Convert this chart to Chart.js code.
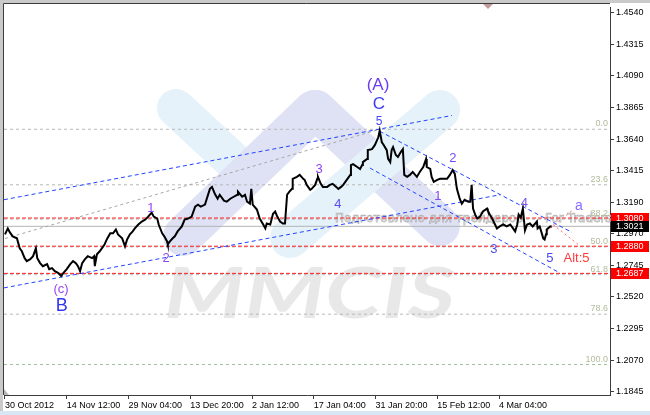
<!DOCTYPE html>
<html>
<head>
<meta charset="utf-8">
<script src="https://cdn.jsdelivr.net/npm/chart.js@4/dist/chart.umd.min.js"></script>
<style>
  html, body { margin: 0; padding: 0; background: #fff; }
  #wrap { width: 650px; height: 415px; position: relative; }
</style>
</head>
<body>
<div id="wrap"><canvas id="chart" width="650" height="415"></canvas></div>
<script>
// ---- EURUSD H4 closes (chart time offset in hours from 30 Oct 2012 00:00) ----
const priceT = [
  0, 16, 28, 44, 68, 76, 84, 96, 112, 124,
  144, 160, 176, 184, 200, 216, 240, 252, 268, 284,
  304, 320, 332, 352, 372, 388, 404, 416, 428, 440,
  456, 472, 496, 508, 512, 524, 540, 560, 568, 580,
  600, 616, 632, 644, 668, 684, 696, 712, 728, 740,
  760, 780, 800, 816, 836, 848, 868, 876, 896, 908,
  924, 928, 940, 956, 968, 984, 1008, 1024, 1044, 1064,
  1084, 1100, 1116, 1140, 1168, 1180, 1196, 1212, 1224, 1248,
  1264, 1284, 1304, 1324, 1328, 1352, 1368, 1380, 1396, 1404,
  1412, 1436, 1452, 1472, 1484, 1492, 1512, 1528, 1540, 1552,
  1568, 1584, 1596, 1608, 1620, 1636, 1640, 1664, 1680, 1700,
  1708, 1720, 1740, 1748, 1768, 1780, 1784, 1800, 1812, 1836,
  1852, 1868, 1888, 1900, 1916, 1928, 1948, 1968, 1972, 1984,
  2008, 2024, 2036, 2040, 2064, 2068, 2092, 2108, 2128, 2136,
  2148, 2156, 2176, 2184, 2196, 2204, 2212, 2228, 2240, 2256,
  2268, 2276, 2292, 2308, 2324, 2348, 2364, 2384, 2400, 2404,
  2424, 2432, 2444, 2464, 2480, 2496, 2520, 2536, 2552, 2564,
  2576, 2592, 2604, 2620, 2640, 2652, 2660, 2668, 2680, 2692,
  2708, 2724, 2748, 2752, 2764, 2780, 2804, 2820, 2840, 2860,
  2880, 2896, 2908, 2920, 2928, 2940, 2952, 2964, 2976, 2992,
  3008, 3032, 3036, 3048, 3060, 3068, 3076, 3084, 3088, 3108,
  3116
];
const priceClose = [
  1.2964, 1.3006, 1.2978, 1.2950, 1.2936, 1.2900, 1.2865, 1.2844, 1.2795, 1.2774,
  1.2788, 1.2809, 1.2865, 1.2795, 1.2760, 1.2738, 1.2753, 1.2717, 1.2724, 1.2703,
  1.2689, 1.2668, 1.2689, 1.2717, 1.2753, 1.2774, 1.2760, 1.2738, 1.2703, 1.2760,
  1.2788, 1.2809, 1.2795, 1.2809, 1.2738, 1.2823, 1.2844, 1.2879, 1.2893, 1.2928,
  1.2971, 1.2971, 1.2999, 1.2964, 1.2936, 1.2879, 1.2928, 1.2964, 1.2985, 1.3006,
  1.3034, 1.3055, 1.3069, 1.3090, 1.3118, 1.3090, 1.3076, 1.3034, 1.2971, 1.2950,
  1.2914, 1.2893, 1.2914, 1.2936, 1.2950, 1.2985, 1.3020, 1.3069, 1.3076, 1.3090,
  1.3161, 1.3175, 1.3161, 1.3175, 1.3287, 1.3301, 1.3252, 1.3217, 1.3245, 1.3203,
  1.3196, 1.3217, 1.3231, 1.3245, 1.3266, 1.3231, 1.3245, 1.3196, 1.3182, 1.3287,
  1.3175, 1.3140, 1.3076, 1.3034, 1.3006, 1.3041, 1.3034, 1.3111, 1.3126, 1.3090,
  1.3055, 1.3041, 1.3041, 1.3245, 1.3266, 1.3287, 1.3358, 1.3372, 1.3386, 1.3358,
  1.3351, 1.3315, 1.3280, 1.3287, 1.3315, 1.3358, 1.3372, 1.3323, 1.3301, 1.3301,
  1.3315, 1.3323, 1.3301, 1.3287, 1.3301, 1.3315, 1.3351, 1.3386, 1.3456, 1.3463,
  1.3442, 1.3428, 1.3456, 1.3477, 1.3499, 1.3562, 1.3569, 1.3597, 1.3653, 1.3700,
  1.3618, 1.3604, 1.3562, 1.3499, 1.3477, 1.3562, 1.3583, 1.3527, 1.3513, 1.3548,
  1.3569, 1.3386, 1.3372, 1.3386, 1.3407, 1.3372, 1.3407, 1.3442, 1.3499, 1.3442,
  1.3428, 1.3372, 1.3337, 1.3351, 1.3358, 1.3358, 1.3358, 1.3386, 1.3421, 1.3393,
  1.3287, 1.3217, 1.3182, 1.3210, 1.3196, 1.3196, 1.3315, 1.3147, 1.3104, 1.3076,
  1.3090, 1.3126, 1.3147, 1.3133, 1.3104, 1.3069, 1.3006, 1.3020, 1.3034, 1.3020,
  1.3034, 1.3006, 1.2985, 1.3034, 1.3104, 1.3083, 1.3147, 1.2992, 1.3034, 1.3041,
  1.3020, 1.3055, 1.3006, 1.3020, 1.2971, 1.2936, 1.2928, 1.2964, 1.2999, 1.3020,
  1.3021
];

// ---- axes ----
const X_MIN = -5.7, X_MAX = 3448.7;
const Y_MIN = 1.18236, Y_MAX = 1.45752;
const xTickPos = [0, 352, 704, 1056, 1408, 1760, 2112, 2464, 2816];
const xTickLabels = ['30 Oct 2012', '14 Nov 12:00', '29 Nov 04:00', '13 Dec 20:00', '2 Jan 12:00',
                     '17 Jan 04:00', '31 Jan 20:00', '15 Feb 12:00', '4 Mar 04:00'];
const yTickLabels = ['1.4540', '1.4315', '1.4090', '1.3865', '1.3640', '1.3415', '1.3190',
                     '1.2970', '1.2745', '1.2520', '1.2295', '1.2070', '1.1845'];
const yTickVals = yTickLabels.map(Number);

// ---- levels ----
const redLevels = [1.3080, 1.2880, 1.2687];
const bidPrice = 1.3021;
const fibHigh = 1.3710, fibLow = 1.2040;
const fibRatios = [0.0, 23.6, 38.2, 50.0, 61.8, 78.6, 100.0];

// ---- channel / trend lines: [t0, t1], [p0, p1] ----
const upChanTopT = [-5.7, 2548],  upChanTopP = [1.3210, 1.3808];
const upChanBotT = [-5.7, 2822],  upChanBotP = [1.2584, 1.3245];
const fibDiagT   = [-2462, 2136], fibDiagP   = [fibLow, fibHigh];
const dnChanTopT = [2136, 3232],  dnChanTopP = [1.3696, 1.2978];
const dnChanBotT = [2080, 3164],  dnChanBotP = [1.3435, 1.2689];
const projAT     = [3089, 3232],  projAP     = [1.2985, 1.3133];
const projAltT   = [3124, 3266],  projAltP   = [1.3034, 1.2893];

// ---- wave labels ----
const waveText  = ['(A)', 'C', '5', '1', '2', '3', '4', '1', '2', '3', '4', '5', 'a', 'Alt:5', '(c)', 'B'];
const waveT     = [2126, 2132, 2132, 832, 918, 1790, 1898, 2468, 2553, 2787, 2960, 3106, 3272, 3258, 319, 324];
const waveP     = [1.4019, 1.3886, 1.3766, 1.3147, 1.2795, 1.3424, 1.3175, 1.3231, 1.3501, 1.2858, 1.3182, 1.2795, 1.3161, 1.2795, 1.2570, 1.2457];
const waveColor = ['#6a3cf2', '#3b3bf6', '#4646f4', '#9a48f2', '#9046f2', '#8a46ea', '#5a50f0', '#8048f0', '#7a4af0', '#4a50f0', '#7a52f0', '#4a4af2', '#8a6cff', '#ff3a3a', '#9848f0', '#3434f6'];
const waveSize  = [17, 17, 12, 13, 13, 13, 13, 13, 13, 13, 13, 13, 14, 13, 13, 18];

// ---- axis price tags ----
const tagVals  = [1.3080, 1.2880, 1.2687];

const line = (t, p) => t.map((v, i) => ({ x: v, y: p[i] }));
const hline = v => [{ x: X_MIN, y: v }, { x: X_MAX, y: v }];

const datasets = [];
datasets.push({ data: priceT.map((t, i) => ({ x: t, y: priceClose[i] })), borderColor: '#000', borderWidth: 2, order: 0 });
const blue = '#2244ff';
[[upChanTopT, upChanTopP], [upChanBotT, upChanBotP], [dnChanTopT, dnChanTopP], [dnChanBotT, dnChanBotP]].forEach(([t, p]) =>
  datasets.push({ data: line(t, p), borderColor: blue, borderWidth: 1, borderDash: [4, 3], order: 2 }));
datasets.push({ data: line(fibDiagT, fibDiagP), borderColor: '#a6a6a6', borderWidth: 1, borderDash: [3, 3], order: 4 });
[[projAT, projAP], [projAltT, projAltP]].forEach(([t, p]) =>
  datasets.push({ data: line(t, p), borderColor: '#ff6a6a', borderWidth: 1, borderDash: [2, 3], order: 1 }));
redLevels.forEach(v => datasets.push({ data: hline(v), borderColor: '#ff1e1e', borderWidth: 1, borderDash: [4, 2], order: 3 }));
datasets.push({ data: hline(bidPrice), borderColor: '#b4b4b4', borderWidth: 1, order: 5 });
fibRatios.forEach(r => datasets.push({
  data: hline(fibHigh - r / 100 * (fibHigh - fibLow)),
  borderColor: r === 100 ? '#9cc49a' : '#b8b8b8', borderWidth: 1, borderDash: [3, 3], order: 6 }));
datasets.forEach(d => { d.pointRadius = 0; d.tension = 0; d.fill = false; });

const FONT = '"Liberation Sans", Arial, sans-serif';

const backdrop = {
  id: 'backdrop',
  beforeDraw(chart) {
    const c = chart.ctx;
    c.save(); c.fillStyle = '#fff'; c.fillRect(0, 0, chart.width, chart.height); c.restore();
  },
  beforeDatasetsDraw(chart) {
    const c = chart.ctx, a = chart.chartArea;
    c.save();
    c.beginPath(); c.rect(a.left, a.top, a.right - a.left, a.bottom - a.top); c.clip();
    // logo watermark strokes
    c.lineCap = 'round';
    const strokes = [
      ['#e5f2fa', 38, 176, 108, 245, 172],
      ['#dfe2f4', 40, 314, 110, 183, 236],
      ['#dfe2f4', 40, 316, 110, 440, 226],
      ['#e5f2fa', 40, 440, 110, 290, 238]
    ];
    strokes.forEach(([col, w, x0, y0, x1, y1]) => {
      c.strokeStyle = col; c.lineWidth = w;
      c.beginPath(); c.moveTo(x0, y0); c.lineTo(x1, y1); c.stroke();
    });
    // brand text
    c.fillStyle = '#e8e8e8';
    c.font = 'italic bold 70px Lato, sans-serif';
    const w = c.measureText('MMCIS').width;
    c.translate(164, 318); c.scale(291 / w, 1);
    c.fillText('MMCIS', 0, 0);
    c.restore();
    // outlined caption
    c.save();
    c.font = '12px "DejaVu Sans", sans-serif';
    c.strokeStyle = '#b6b6b6'; c.lineWidth = 0.75;
    c.strokeText('Подготовлено для трейдеров', 335, 222);
    c.strokeText('For Traders', 545, 222);
    c.restore();
  }
};

const annotations = {
  id: 'annotations',
  afterDatasetsDraw(chart) {
    const c = chart.ctx, xs = chart.scales.x, ys = chart.scales.y, a = chart.chartArea;
    c.save();
    // fibonacci level captions
    c.font = '9px ' + FONT; c.fillStyle = '#b2bb9c'; c.textAlign = 'right'; c.textBaseline = 'alphabetic';
    fibRatios.forEach(r => {
      const py = ys.getPixelForValue(fibHigh - r / 100 * (fibHigh - fibLow));
      c.fillText(r.toFixed(1), a.right - 2, py - 3);
    });
    // wave counts
    c.textAlign = 'center'; c.textBaseline = 'middle';
    waveText.forEach((s, i) => {
      c.font = waveSize[i] + 'px ' + FONT;
      c.fillStyle = waveColor[i];
      c.fillText(s, xs.getPixelForValue(waveT[i]), ys.getPixelForValue(waveP[i]));
    });
    c.restore();
  },
  afterDraw(chart) {
    const c = chart.ctx, ys = chart.scales.y, a = chart.chartArea;
    c.save();
    c.font = '9px ' + FONT; c.textBaseline = 'middle'; c.textAlign = 'left';
    const tag = (v, bg, fg, txt) => {
      const py = Math.round(ys.getPixelForValue(v));
      c.fillStyle = bg; c.fillRect(a.right + 1, py - 5, 38, 11);
      c.fillStyle = fg; c.fillText(txt, a.right + 6, py + 0.5);
    };
    tagVals.forEach(v => tag(v, '#ff0000', '#fff', v.toFixed(4)));
    tag(bidPrice, '#000', '#fff', bidPrice.toFixed(4));
    // window frame
    c.fillStyle = '#cacaca';
    c.fillRect(0, 0, chart.width, 3); c.fillRect(0, 0, 3, chart.height);
    c.fillStyle = '#d8e6f5'; c.fillRect(0, 411, chart.width, 4);
    c.strokeStyle = '#3c3c3c'; c.lineWidth = 1;
    c.beginPath(); c.moveTo(3.5, 3.5); c.lineTo(a.right, 3.5); c.moveTo(3.5, 3.5); c.lineTo(3.5, a.bottom); c.stroke();
    // chart shift marker and corner marker
    c.fillStyle = '#c49a9a';
    c.beginPath(); c.moveTo(483, 4); c.lineTo(493, 4); c.lineTo(488, 9); c.closePath(); c.fill();
    c.fillStyle = '#b8b8b8';
    c.beginPath(); c.moveTo(4, a.bottom); c.lineTo(4, a.bottom - 6); c.lineTo(9, a.bottom); c.closePath(); c.fill();
    c.restore();
  }
};

new Chart(document.getElementById('chart'), {
  type: 'line',
  data: { datasets },
  options: {
    responsive: false,
    animation: false,
    layout: { padding: { left: 4, top: 4, right: 0, bottom: 0 } },
    plugins: { legend: { display: false }, tooltip: { enabled: false } },
    scales: {
      x: {
        type: 'linear', position: 'bottom', min: X_MIN, max: X_MAX,
        afterBuildTicks: s => { s.ticks = xTickPos.map(v => ({ value: v })); },
        afterFit: s => { s.height = 20; s.paddingLeft = 0; s.paddingRight = 0; },
        ticks: { autoSkip: false, maxRotation: 0, align: 'start', padding: 1, color: '#000',
                 font: { family: FONT, size: 9 }, callback: (v, i) => xTickLabels[i] },
        grid: { drawOnChartArea: false, tickLength: 4, color: '#3c3c3c' },
        border: { color: '#3c3c3c' }
      },
      y: {
        type: 'linear', position: 'right', min: Y_MIN, max: Y_MAX,
        afterBuildTicks: s => { s.ticks = yTickVals.map(v => ({ value: v })); },
        afterFit: s => { s.width = 40; },
        ticks: { padding: 2, color: '#000', font: { family: FONT, size: 9 }, callback: (v, i) => yTickLabels[i] },
        grid: { drawOnChartArea: false, tickLength: 4, color: '#3c3c3c' },
        border: { color: '#3c3c3c' }
      }
    }
  },
  plugins: [backdrop, annotations]
});
</script>
</body>
</html>
